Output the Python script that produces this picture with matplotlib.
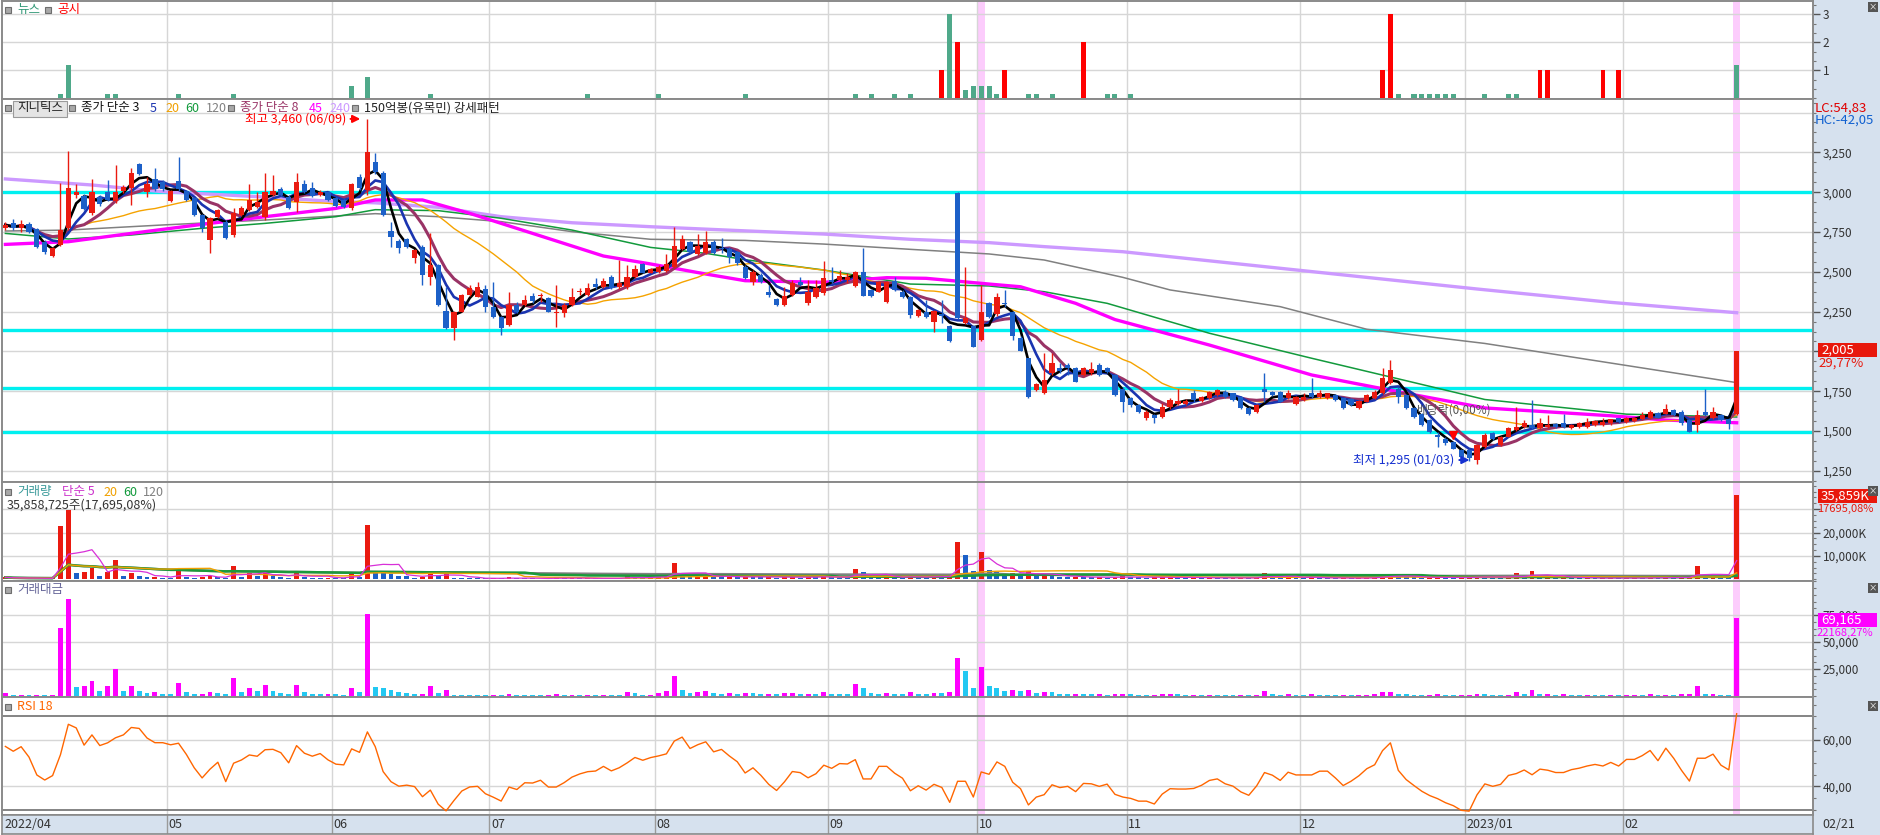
import numpy as np
import pandas as pd
import matplotlib
matplotlib.use("Agg")
import matplotlib.pyplot as plt
import matplotlib.transforms as mtransforms
from matplotlib.patches import Rectangle
from matplotlib.ticker import FixedLocator, AutoMinorLocator, FuncFormatter

plt.rcParams['font.family'] = ['Noto Sans CJK KR', 'DejaVu Sans']

# 일봉 데이터 (2022/04/01 ~ 2023/02/21, 221 거래일)
month_labels = ["2022/04", "05", "06", "07", "08", "09", "10", "11", "12", "2023/01", "02"]
month_starts = [0, 21, 42, 62, 83, 105, 124, 143, 165, 186, 206]
last_date = "02/21"

opens = [
    2773, 2804, 2773, 2798, 2768, 2689, 2601, 2668, 2773, 2982,
    2978, 2867, 2971, 3003, 2944, 3007, 3028, 3175, 3003, 3080,
    3066, 2944, 3070, 3007, 2961, 2856, 2699, 2846, 2815, 2731,
    2856, 2888, 2909, 2846, 2982, 3020, 2971, 2940, 3051, 3024,
    2982, 2999, 2961, 2951, 2902, 3097, 3013, 3192, 3118, 2758,
    2695, 2704, 2584, 2658, 2465, 2540, 2254, 2145, 2250, 2354,
    2344, 2390, 2281, 2218, 2166, 2291, 2291, 2348, 2346, 2333,
    2243, 2243, 2291, 2370, 2354, 2423, 2407, 2469, 2402, 2402,
    2465, 2549, 2495, 2501, 2507, 2532, 2643, 2685, 2612, 2616,
    2689, 2651, 2643, 2622, 2532, 2438, 2480, 2375, 2329, 2291,
    2354, 2434, 2306, 2344, 2365, 2448, 2448, 2450, 2411, 2501,
    2385, 2375, 2312, 2442, 2375, 2344, 2224, 2245, 2187, 2235,
    2159, 2995, 2176, 2159, 2071, 2302, 2233, 2306, 2245, 2086,
    1956, 1757, 1736, 1862, 1895, 1914, 1893, 1851, 1862, 1914,
    1893, 1851, 1767, 1705, 1663, 1579, 1600, 1590, 1648, 1669,
    1669, 1736, 1690, 1705, 1726, 1747, 1736, 1715, 1642, 1621,
    1761, 1747, 1747, 1705, 1669, 1694, 1736, 1715, 1705, 1726,
    1705, 1700, 1642, 1684, 1705, 1736, 1799, 1767, 1726, 1642,
    1610, 1569, 1474, 1453, 1432, 1380, 1380, 1317, 1401, 1485,
    1411, 1464, 1506, 1527, 1537, 1516, 1527, 1544, 1548, 1520,
    1527, 1527, 1537, 1537, 1548, 1579, 1558, 1564, 1573, 1579,
    1615, 1610, 1631, 1621, 1569, 1537, 1621, 1579, 1600, 1575,
    1610]

highs = [
    2815, 2830, 2825, 2810, 2775, 2700, 2655, 3055, 3258, 3049,
    2990, 3080, 2985, 3076, 3170, 3045, 3150, 3185, 3097, 3150,
    3075, 3015, 3223, 3015, 2970, 2865, 2845, 2895, 2825, 2898,
    2910, 3051, 3003, 3118, 3108, 3030, 2980, 3118, 3076, 3066,
    3013, 3005, 2970, 2960, 3060, 3112, 3460, 3244, 3130, 2815,
    2705, 2715, 2645, 2670, 2742, 2550, 2407, 2255, 2360, 2417,
    2438, 2417, 2438, 2225, 2375, 2312, 2354, 2369, 2365, 2340,
    2417, 2302, 2396, 2396, 2427, 2459, 2459, 2480, 2574, 2543,
    2543, 2555, 2525, 2543, 2610, 2779, 2731, 2695, 2737, 2756,
    2700, 2710, 2658, 2630, 2540, 2510, 2490, 2417, 2335, 2406,
    2448, 2469, 2448, 2448, 2568, 2532, 2511, 2490, 2507, 2647,
    2392, 2442, 2445, 2469, 2385, 2350, 2268, 2323, 2262, 2323,
    2165, 3000, 2532, 2165, 2417, 2310, 2369, 2385, 2255, 2095,
    1960, 1800, 1987, 1987, 1925, 1925, 1900, 1900, 1935, 1925,
    1900, 1860, 1775, 1715, 1670, 1630, 1610, 1673, 1705, 1761,
    1700, 1757, 1720, 1752, 1765, 1755, 1740, 1720, 1648, 1668,
    1862, 1752, 1752, 1757, 1720, 1736, 1830, 1757, 1740, 1730,
    1710, 1705, 1695, 1730, 1757, 1893, 1945, 1775, 1730, 1648,
    1615, 1575, 1495, 1460, 1440, 1385, 1390, 1420, 1485, 1495,
    1470, 1527, 1652, 1569, 1694, 1579, 1600, 1550, 1610, 1545,
    1558, 1579, 1570, 1579, 1578, 1585, 1590, 1590, 1621, 1631,
    1620, 1669, 1640, 1632, 1575, 1631, 1767, 1652, 1605, 1580,
    2005]

lows = [
    2760, 2765, 2752, 2745, 2650, 2609, 2595, 2660, 2760, 2965,
    2885, 2856, 2915, 2945, 2930, 2995, 2919, 3105, 2971, 3010,
    3010, 2940, 3010, 2945, 2850, 2752, 2616, 2840, 2705, 2720,
    2850, 2880, 2900, 2825, 2975, 2975, 2895, 2877, 2995, 2970,
    2975, 2945, 2905, 2900, 2890, 3015, 2982, 3115, 2850, 2658,
    2616, 2650, 2553, 2417, 2417, 2285, 2140, 2072, 2245, 2350,
    2340, 2250, 2212, 2103, 2160, 2239, 2285, 2302, 2312, 2245,
    2155, 2218, 2285, 2355, 2350, 2395, 2400, 2395, 2395, 2395,
    2460, 2490, 2490, 2495, 2500, 2525, 2635, 2615, 2605, 2610,
    2612, 2616, 2553, 2545, 2455, 2417, 2430, 2344, 2285, 2285,
    2345, 2410, 2291, 2338, 2355, 2427, 2440, 2430, 2405, 2345,
    2340, 2370, 2305, 2380, 2335, 2207, 2215, 2210, 2124, 2176,
    2060, 2205, 2170, 2025, 2067, 2212, 2225, 2281, 2071, 2000,
    1705, 1750, 1730, 1855, 1865, 1855, 1805, 1845, 1855, 1845,
    1865, 1720, 1621, 1652, 1615, 1570, 1548, 1585, 1640, 1665,
    1665, 1685, 1685, 1700, 1720, 1710, 1690, 1638, 1600, 1615,
    1684, 1720, 1680, 1700, 1665, 1690, 1710, 1710, 1700, 1690,
    1638, 1658, 1638, 1680, 1700, 1730, 1795, 1673, 1638, 1585,
    1530, 1490, 1401, 1415, 1385, 1330, 1310, 1295, 1395, 1445,
    1405, 1460, 1500, 1520, 1510, 1510, 1520, 1520, 1520, 1515,
    1520, 1520, 1530, 1530, 1540, 1550, 1550, 1558, 1568, 1575,
    1580, 1605, 1595, 1540, 1495, 1495, 1595, 1575, 1565, 1515,
    1600]

closes = [
    2794, 2773, 2798, 2752, 2657, 2626, 2647, 2762, 3024, 3003,
    2894, 2999, 2923, 2951, 3003, 3034, 3118, 3112, 3051, 3020,
    3020, 3007, 3020, 2951, 2856, 2773, 2835, 2888, 2714, 2871,
    2902, 2951, 2940, 3003, 3007, 2982, 2902, 3066, 3003, 2978,
    3003, 2951, 2915, 2909, 3051, 3024, 3254, 3129, 2857, 2716,
    2647, 2658, 2637, 2480, 2543, 2291, 2145, 2250, 2354, 2400,
    2407, 2281, 2218, 2145, 2291, 2250, 2323, 2319, 2348, 2250,
    2250, 2291, 2344, 2375, 2396, 2402, 2444, 2400, 2427, 2469,
    2518, 2495, 2518, 2532, 2549, 2664, 2704, 2626, 2662, 2689,
    2620, 2641, 2595, 2553, 2463, 2501, 2438, 2354, 2291, 2350,
    2427, 2417, 2371, 2400, 2463, 2438, 2473, 2470, 2501, 2350,
    2350, 2438, 2438, 2385, 2344, 2228, 2260, 2218, 2254, 2225,
    2067, 2212, 2212, 2030, 2245, 2218, 2344, 2296, 2099, 2005,
    1715, 1795, 1820, 1925, 1880, 1893, 1810, 1893, 1887, 1851,
    1872, 1726, 1684, 1663, 1621, 1621, 1579, 1652, 1694, 1690,
    1690, 1694, 1715, 1747, 1757, 1715, 1694, 1642, 1610, 1663,
    1747, 1726, 1684, 1736, 1715, 1715, 1715, 1736, 1736, 1694,
    1642, 1663, 1690, 1726, 1747, 1830, 1883, 1715, 1642, 1590,
    1537, 1495, 1464, 1422, 1390, 1338, 1328, 1411, 1474, 1453,
    1464, 1516, 1527, 1548, 1516, 1548, 1541, 1527, 1527, 1541,
    1548, 1558, 1565, 1558, 1573, 1558, 1585, 1585, 1600, 1621,
    1585, 1638, 1600, 1548, 1495, 1600, 1600, 1621, 1569, 1545,
    2005]

# 거래량 (백만주)
volumes = [
    0.85, 0.43, 0.45, 0.42, 0.45, 0.40, 0.42, 22.8, 29.6, 2.85,
    3.28, 4.7, 1.56, 3.28, 8.2, 1.56, 2.85, 1.42, 0.85, 1.14,
    0.71, 0.65, 4.13, 1.14, 0.71, 0.8, 1.42, 0.85, 0.71, 5.7,
    1.14, 2.56, 1.42, 3.28, 1.42, 0.85, 0.71, 3.28, 1.14, 0.71,
    0.65, 0.75, 0.5, 0.45, 2.56, 1.14, 23.2, 2.55, 2.5, 2.05,
    1.5, 1.2, 0.7, 0.9, 3.6, 1.35, 2.6, 0.6, 0.45, 0.42,
    0.4, 0.38, 0.45, 0.42, 0.8, 0.42, 0.4, 0.38, 0.2, 0.42,
    0.8, 0.42, 0.45, 0.4, 0.45, 0.4, 0.45, 0.4, 0.35, 1.45,
    1.1, 0.37, 0.5, 1.2, 1.8, 6.8, 2.2, 1.2, 1.5, 1.8,
    1.0, 0.8, 1.1, 0.9, 1.3, 1.1, 0.8, 0.9, 0.7, 1.0,
    1.2, 0.7, 0.9, 0.8, 1.6, 0.9, 0.7, 0.6, 4.6, 3.0,
    1.0, 0.9, 1.2, 0.8, 0.7, 1.5, 0.9, 0.8, 1.3, 1.1,
    1.6, 16.0, 10.3, 3.5, 11.8, 4.0, 3.2, 2.0, 2.6, 2.2,
    3.4, 1.6, 2.1, 1.7, 1.0, 0.9, 1.1, 0.9, 0.8, 0.9,
    0.6, 1.0, 1.3, 0.9, 0.8, 0.7, 0.8, 0.9, 1.0, 0.9,
    0.6, 0.7, 0.5, 0.7, 0.6, 0.5, 0.5, 0.7, 0.6, 0.7,
    2.8, 1.0, 0.8, 1.2, 0.7, 0.6, 0.9, 0.6, 0.5, 0.4,
    0.6, 0.5, 0.5, 0.6, 0.9, 1.8, 2.2, 1.2, 0.9, 0.8,
    0.7, 0.8, 1.0, 0.7, 0.6, 0.7, 0.8, 1.6, 1.2, 0.7,
    0.6, 0.9, 2.6, 1.0, 3.4, 1.1, 1.3, 0.7, 1.2, 0.6,
    0.5, 0.6, 0.5, 0.5, 0.6, 0.5, 0.5, 0.6, 0.5, 0.9,
    0.6, 0.8, 0.7, 0.9, 1.2, 5.8, 1.3, 1.4, 0.8, 0.7,
    35.859]

# 장기 이동평균
ma240_idx = [0, 11, 20, 32, 41, 47, 55, 63, 72, 82, 94, 104, 115, 125, 132, 142, 187, 204, 220]
ma240_val = [3083, 3045, 3003, 2972, 2944, 2933, 2905, 2846, 2808, 2783, 2757, 2737, 2704, 2683, 2658, 2626, 2392, 2308, 2243]
ma120_idx = [0, 8, 20, 33, 47, 55, 63, 72, 82, 94, 104, 115, 125, 132, 142, 148, 162, 173, 188, 220]
ma120_val = [2756, 2762, 2794, 2825, 2865, 2846, 2815, 2752, 2704, 2697, 2674, 2641, 2612, 2574, 2465, 2386, 2281, 2139, 2050, 1804]
ma60_idx = [0, 8, 16, 25, 33, 42, 47, 55, 63, 72, 82, 89, 94, 104, 115, 125, 132, 140, 153, 166, 178, 188, 206, 220]
ma60_val = [2741, 2706, 2731, 2773, 2804, 2846, 2890, 2884, 2836, 2762, 2653, 2616, 2576, 2511, 2423, 2411, 2375, 2302, 2114, 1957, 1816, 1698, 1606, 1588]
ma45_idx = [0, 8, 16, 25, 33, 42, 47, 53, 59, 67, 76, 82, 89, 94, 104, 112, 117, 125, 129, 136, 141, 153, 166, 178, 188, 204, 211, 220]
ma45_val = [2672, 2689, 2741, 2798, 2846, 2898, 2951, 2951, 2867, 2741, 2599, 2549, 2486, 2444, 2434, 2463, 2459, 2423, 2406, 2302, 2200, 2040, 1852, 1737, 1645, 1596, 1569, 1552]

# 뉴스 / 공시 건수
news_idx = [7, 8, 13, 14, 22, 29, 44, 46, 54, 74, 83, 94, 108, 110, 113, 115, 120, 122, 123, 124,
            125, 126, 130, 131, 133, 140, 141, 143, 177, 179, 180, 181, 182, 183, 184, 188, 191, 192, 220]
news_cnt = [0.17, 1.18, 0.17, 0.17, 0.17, 0.17, 0.43, 0.75, 0.17, 0.17, 0.17, 0.17, 0.17, 0.17, 0.17, 0.17,
            3.0, 0.3, 0.45, 0.45, 0.45, 0.17, 0.17, 0.17, 0.17, 0.17, 0.17, 0.17, 0.17, 0.17, 0.17, 0.17,
            0.17, 0.17, 0.17, 0.17, 0.17, 0.17, 1.18]
disc_idx = [119, 121, 127, 137, 175, 176, 195, 196, 203, 205]
disc_cnt = [1, 2, 1, 2, 1, 3, 1, 1, 1, 1]

cyan_levels = [3000, 2135, 1770, 1495]
highlight_idx = [124, 220]
RSI_PERIOD = 18
RSI_SEED_GAIN, RSI_SEED_LOSS = 20.0, 15.0

n = len(closes)
assert len(opens) == n and len(highs) == n and len(lows) == n and len(volumes) == n
assert len(news_idx) == len(news_cnt)

o = np.array(opens, float)
h = np.array(highs, float)
l = np.array(lows, float)
c = np.array(closes, float)
v = np.array(volumes, float)
x = np.arange(n)
cs = pd.Series(c)
vs = pd.Series(v)
value = v * c  # 거래대금 (백만원)

# RSI (Wilder)
delta = np.diff(c, prepend=c[0])
ag, al = RSI_SEED_GAIN, RSI_SEED_LOSS
rsi = []
for d in delta:
    ag = (ag * (RSI_PERIOD - 1) + max(d, 0)) / RSI_PERIOD
    al = (al * (RSI_PERIOD - 1) + max(-d, 0)) / RSI_PERIOD
    rsi.append(100 * ag / (ag + al))
rsi = np.array(rsi)

# ---- 레이아웃 (픽셀 단위) ----
W, H = 1881, 835
fig = plt.figure(figsize=(W / 100, H / 100), dpi=100)
fig.patch.set_facecolor('white')
X0, X1 = 2, 1813
XLIM = (-0.43, 229.7)
STRIP = '#d6e1ee'
GRID = '#d6d6d6'
RED, BLUE = '#ea1a10', '#1c60c8'


def fx(px):
    return px / W


def fy(py):
    return 1 - py / H


def px_axes(y0, y1):
    return fig.add_axes([fx(X0), fy(y1), (X1 - X0) / W, (y1 - y0) / H])


fig.add_artist(Rectangle((fx(X1), 0), 1 - fx(X1), 1, transform=fig.transFigure,
                         facecolor=STRIP, edgecolor='none', zorder=-5))

grid_x = [m - 0.5 for m in month_starts[1:]]


def style(ax, ylim, ticks=None, fmt=None, minor=4):
    ax.set_xlim(*XLIM)
    ax.set_ylim(*ylim)
    for s in ax.spines.values():
        s.set_color('#8a8a8a')
        s.set_linewidth(1.4)
    ax.tick_params(axis='x', bottom=False, labelbottom=False)
    ax.yaxis.tick_right()
    ax.tick_params(axis='y', which='major', direction='out', length=5, width=1,
                   color='#555555', labelsize=8.5, labelcolor='#333333', pad=2)
    ax.tick_params(axis='y', which='minor', direction='out', length=2.5, width=0.8, color='#777777')
    if ticks is not None:
        ax.yaxis.set_major_locator(FixedLocator(ticks))
        ax.yaxis.set_minor_locator(AutoMinorLocator(minor))
        for t in ticks:
            ax.axhline(t, color=GRID, lw=1, zorder=0.6)
    if fmt is not None:
        ax.yaxis.set_major_formatter(FuncFormatter(fmt))
    for g in grid_x:
        ax.axvline(g, color=GRID, lw=1, zorder=0.6)
    for hi in highlight_idx:
        ax.axvspan(hi - 0.45, hi + 0.45, color='#fcccfc', lw=0, zorder=0.5)


comma = lambda val, p: f"{val:,.0f}"

# ---- 뉴스 / 공시 ----
ax_n = px_axes(1, 99)
style(ax_n, (-0.02, 3.48), ticks=[1, 2, 3], fmt=lambda val, p: f"{val:.0f}", minor=3)
ax_n.bar(news_idx, news_cnt, width=0.64, color='#4fa98a', lw=0, zorder=3)
ax_n.bar(disc_idx, disc_cnt, width=0.6, color='#ff0000', lw=0, zorder=3)

# ---- 가격 ----
ax_p = px_axes(99, 482)
style(ax_p, (1180, 3585), ticks=[1250, 1500, 1750, 2000, 2250, 2500, 2750, 3000, 3250],
      fmt=lambda val, p: "" if val == 2000 else f"{val:,.0f}")
ax_p.axhline(3500, color=GRID, lw=1, zorder=0.6)
for lv in cyan_levels:
    ax_p.axhline(lv, color='#00f0f0', lw=2.4, zorder=1)

ax_p.plot(ma240_idx, ma240_val, color='#cc99ff', lw=2.4, zorder=2)
ax_p.plot(ma120_idx, ma120_val, color='#808080', lw=1.1, zorder=2)
ax_p.plot(ma60_idx, ma60_val, color='#129a3c', lw=1.1, zorder=2)
ax_p.plot(ma45_idx, ma45_val, color='#ff00ff', lw=2.4, zorder=2.1)
ax_p.plot(x, cs.rolling(20, min_periods=1).mean(), color='#f5a300', lw=1.0, zorder=2.2)
ax_p.plot(x, cs.rolling(8, min_periods=1).mean(), color='#993366', lw=2.2, zorder=2.3)
ax_p.plot(x, cs.rolling(5, min_periods=1).mean(), color='#1a34b0', lw=1.9, zorder=2.4)
ax_p.plot(x, cs.rolling(3, min_periods=1).mean(), color='#000000', lw=1.9, zorder=2.5)

cols = np.where(c >= o, RED, BLUE)
ax_p.vlines(x, l, h, colors=cols, lw=1, zorder=4)
ax_p.bar(x, np.maximum(np.abs(c - o), 7), bottom=np.minimum(o, c), width=0.66,
         color=cols, lw=0, zorder=5)

i_hi = int(np.argmax(h))
i_lo = int(np.argmin(l))
ax_p.text(i_hi - 2.7, h[i_hi], f"최고 {h[i_hi]:,.0f} (06/09)", color='#ff0000', fontsize=9,
          ha='right', va='center', zorder=6)
ax_p.annotate('', xy=(i_hi - 0.55, h[i_hi]), xytext=(i_hi - 2.5, h[i_hi]),
              arrowprops=dict(arrowstyle='-|>', color='#ff0000', lw=1.4, mutation_scale=11), zorder=6)
ax_p.text(i_lo - 2.9, 1318, f"최저 {l[i_lo]:,.0f} (01/03)", color='#1530d0', fontsize=9,
          ha='right', va='center', zorder=6)
ax_p.annotate('', xy=(i_lo - 0.6, 1318), xytext=(i_lo - 2.6, 1318),
              arrowprops=dict(arrowstyle='-|>', color='#1530d0', lw=1.4, mutation_scale=11), zorder=6)
ax_p.text(179.2, 1632, "배당락(0,00%)", color='#555555', fontsize=8.5, ha='left', va='center', zorder=6)
ax_p.plot(184, 1474, marker='v', color='#ff0000', ms=6, zorder=6)

# ---- 거래량 ----
ax_v = px_axes(482, 581)
style(ax_v, (-0.73, 41.6), ticks=[10, 20, 30],
      fmt=lambda val, p: "" if val == 30 else f"{val * 1000:,.0f}K")
vcols = [RED] + [RED if v[i] >= v[i - 1] else BLUE for i in range(1, n)]
ax_v.bar(x, v, width=0.62, color=vcols, lw=0, zorder=3)
ax_v.plot(x, vs.rolling(120, min_periods=1).mean(), color='#808080', lw=1.8, zorder=4)
ax_v.plot(x, vs.rolling(60, min_periods=1).mean(), color='#1a9a3a', lw=1.8, zorder=4)
ax_v.plot(x, vs.rolling(20, min_periods=1).mean(), color='#f0a000', lw=1.0, zorder=4)
ax_v.plot(x, vs.rolling(5, min_periods=1).mean(), color='#d830d8', lw=0.9, zorder=4)

# ---- 거래대금 ----
ax_m = px_axes(581, 697)
style(ax_m, (-926, 106500), ticks=[25000, 50000, 75000], fmt=comma)
mcols = ['#ff00ff'] + ['#ff00ff' if value[i] >= value[i - 1] else '#22c8f2' for i in range(1, n)]
ax_m.bar(x, value, width=0.62, color=mcols, lw=0, zorder=3)

# ---- RSI ----
ax_r = px_axes(697, 815)
style(ax_r, (27.8, 78.3), ticks=[40, 60], fmt=lambda val, p: f"{val:.2f}".replace('.', ','))
ax_r.axhline(70, color='#707070', lw=1.2, zorder=0.7)
ax_r.axhline(30, color='#707070', lw=1.2, zorder=0.7)
ax_r.plot(x, rsi, color='#ff6600', lw=1.0, zorder=3)

# ---- 날짜 축 ----
ax_d = px_axes(815, 834)
ax_d.set_facecolor(STRIP)
ax_d.set_xlim(*XLIM)
ax_d.set_ylim(0, 1)
ax_d.set_xticks([])
ax_d.set_yticks([])
for s in ax_d.spines.values():
    s.set_color('#8a8a8a')
    s.set_linewidth(1.2)
blend = mtransforms.blended_transform_factory(ax_d.transData, ax_d.transAxes)
for g in grid_x:
    ax_d.axvline(g, color='#9a9a9a', lw=1)
for lab, ms in zip(month_labels, month_starts):
    pos = -0.15 if ms == 0 else ms - 0.3
    ax_d.text(pos, 0.48, lab, transform=blend, fontsize=9, color='#333333', ha='left', va='center')
fig.text(fx(1822), fy(825), last_date, fontsize=9, color='#333333', ha='left', va='center')

# ---- 범례 / 헤더 ----
def marker(px, py):
    fig.add_artist(Rectangle((fx(px - 3), fy(py + 3)), 6 / W, 6 / H, transform=fig.transFigure,
                             facecolor='#a8a8a8', edgecolor='#6e6e6e', lw=0.8, zorder=7))


def label(px, py, s, color, size=9):
    fig.text(fx(px), fy(py), s, color=color, fontsize=size, ha='left', va='center', zorder=8)


marker(8, 10)
label(17, 10, "뉴스", '#339977')
marker(48, 10)
label(57, 10, "공시", '#ff0000')

marker(8, 108)
fig.add_artist(Rectangle((fx(13), fy(117)), 54 / W, 16 / H, transform=fig.transFigure,
                         facecolor='#e4e4e4', edgecolor='#9a9a9a', lw=0.8, zorder=7))
label(17, 108, "지니틱스", '#222222')
marker(72, 108)
label(81, 108, "종가 단순 3", '#111111')
label(150, 108, "5", '#1a34b0')
label(165, 108, "20", '#f0a000')
label(185, 108, "60", '#129a3c')
label(206, 108, "120", '#808080')
marker(231, 108)
label(240, 108, "종가 단순 8", '#993366')
label(309, 108, "45", '#ff00ff')
label(329, 108, "240", '#cc99ff')
marker(355, 108)
label(364, 108, "150억봉(유목민) 강세패턴", '#222222')

marker(8, 492)
label(17, 492, "거래량", '#3a9a9a')
label(62, 492, "단순 5", '#cc33cc')
label(103, 492, "20", '#f0a000')
label(123, 492, "60", '#129a3c')
label(143, 492, "120", '#808080')
label(7, 505, "35,858,725주(17,695,08%)", '#333333')

marker(8, 590)
label(17, 590, "거래대금", '#666699')

marker(8, 707)
label(17, 707, "RSI 18", '#ff6600')

# ---- 우측 값 표시 ----
label(1815, 108, "LC:54,83", '#e00000', 9.5)
label(1815, 120, "HC:-42,05", '#1060d0', 9.5)
chg = (c[-1] / c[-2] - 1) * 100


def value_box(py, s, face):
    fig.add_artist(Rectangle((fx(1818), fy(py + 7)), 59 / W, 14 / H, transform=fig.transFigure,
                             facecolor=face, edgecolor='none', zorder=7))
    fig.text(fx(1821), fy(py), s, color='white', fontsize=9.5, ha='left', va='center', zorder=8)


value_box(350, f"{c[-1]:,.0f}", '#e8180c')
label(1818, 363, f"{chg:.2f}%".replace('.', ','), '#e8180c', 9.5)
value_box(496, f"{v[-1] * 1000:,.0f}K", '#e8180c')
label(1817, 509, "17695,08%", '#e8180c', 8)
value_box(620, "69,165", '#ff00ff')
label(1817, 633, "22168,27%", '#ff00ff', 8)

for by in (7, 491, 588, 706):
    fig.add_artist(Rectangle((fx(1868), fy(by + 5)), 10 / W, 10 / H, transform=fig.transFigure,
                             facecolor='#555555', edgecolor='none', zorder=7))
    fig.text(fx(1873), fy(by), "×", color='white', fontsize=6, ha='center', va='center', zorder=8)

fig.savefig("out.png", dpi=100)
